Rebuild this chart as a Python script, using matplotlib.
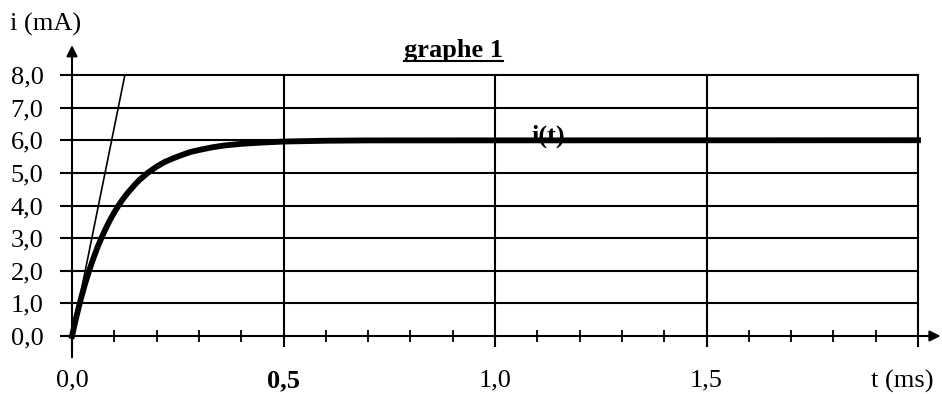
import numpy as np
import matplotlib
matplotlib.use('Agg')
import matplotlib.pyplot as plt
from matplotlib.lines import Line2D

# courbe i(t) (t en ms, i en mA)
t_ms = [0.0, 0.01, 0.02, 0.03, 0.04, 0.05, 0.06, 0.07, 0.08, 0.09, 0.10,
        0.11, 0.12, 0.13, 0.14, 0.15, 0.16, 0.17, 0.18, 0.19, 0.20, 0.22,
        0.24, 0.26, 0.28, 0.30, 0.33, 0.36, 0.40, 0.45, 0.50, 0.60, 0.70, 2.0]
i_ma = [0.0, 0.57, 1.09, 1.56, 1.98, 2.36, 2.71, 3.02, 3.30, 3.56, 3.79,
        4.00, 4.19, 4.36, 4.51, 4.66, 4.79, 4.90, 5.01, 5.10, 5.19, 5.34,
        5.45, 5.55, 5.64, 5.70, 5.78, 5.84, 5.89, 5.93, 5.96, 5.985, 5.995, 6.0]

# tangente a l'origine
tangent_t = [0.0, 0.125]
tangent_i = [0.0, 8.0]

y_ticks = [0, 1, 2, 3, 4, 5, 6, 7, 8]
y_labels = ['0,0', '1,0', '2,0', '3,0', '4,0', '5,0', '6,0', '7,0', '8,0']
x_ticks = [0.0, 0.5, 1.0, 1.5, 2.0]
x_labels = ['0,0', '0,5', '1,0', '1,5', '']
minor_ticks = [0.1, 0.2, 0.3, 0.4, 0.6, 0.7, 0.8, 0.9, 1.1, 1.2, 1.3, 1.4,
               1.6, 1.7, 1.8, 1.9]

plt.rcParams['font.family'] = ['Liberation Serif', 'DejaVu Serif']
fs = 19

fig = plt.figure(figsize=(9.42, 3.94), dpi=100)
ax = fig.add_axes([72 / 942, 58 / 394, 846 / 942, 261 / 394])
ax.set_xlim(0, 2)
ax.set_ylim(0, 8)
for s in ax.spines.values():
    s.set_visible(False)

ax.set_yticks(y_ticks)
ax.set_yticklabels(y_labels, fontsize=fs)
ax.tick_params(axis='y', length=8.6, width=1.5, pad=12)

ax.set_xticks(x_ticks)
ax.set_xticklabels(x_labels, fontsize=fs)
ax.get_xticklabels()[1].set_fontweight('bold')
ax.set_xticks(minor_ticks, minor=True)
ax.tick_params(axis='x', which='major', length=8, width=1.5, pad=16)
ax.tick_params(axis='x', which='minor', direction='inout', length=8, width=1.3)

# quadrillage
for y in y_ticks[1:]:
    ax.plot([0, 2], [y, y], color='black', lw=1.5, clip_on=False, zorder=1)
for x in x_ticks[1:]:
    ax.plot([x, x], [0, 8], color='black', lw=1.5, clip_on=False, zorder=1)

# axes avec fleches
arr = dict(arrowstyle='-|>', lw=1.5, color='black', mutation_scale=16)
ax.annotate('', xy=(0, 9.0), xytext=(0, -0.74), arrowprops=arr, annotation_clip=False)
ax.annotate('', xy=(2.06, 0), xytext=(-0.024, 0), arrowprops=arr, annotation_clip=False)

ax.plot(t_ms, i_ma, color='black', lw=4.2, clip_on=False, zorder=3,
        solid_joinstyle='round')
ax.plot(tangent_t, tangent_i, color='black', lw=1.2, clip_on=False, zorder=3)

fig.text(10 / 942, 1 - 24 / 394, 'i (mA)', fontsize=fs, va='center', ha='left')
fig.text(902 / 942, 1 - 381 / 394, 't (ms)', fontsize=fs, va='center', ha='center')
fig.text(548 / 942, 1 - 136 / 394, 'i(t)', fontsize=fs, fontweight='bold',
         va='center', ha='center')
title = fig.text(453 / 942, 1 - 50 / 394, 'graphe 1', fontsize=19, fontweight='bold',
                 va='center', ha='center')

fig.canvas.draw()
bb = title.get_window_extent()
fig.add_artist(Line2D([bb.x0 / 942, bb.x1 / 942], [(bb.y0 + 1) / 394] * 2,
                      color='black', lw=1.5, transform=fig.transFigure))

fig.savefig('out.png', dpi=100)
